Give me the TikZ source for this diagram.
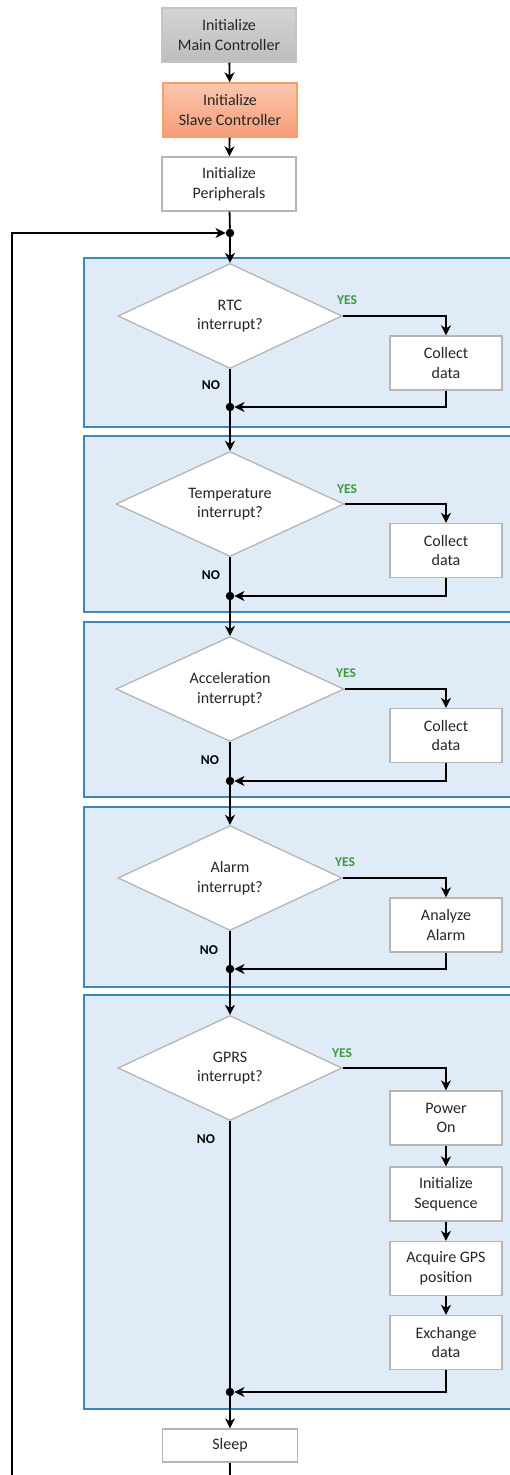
\documentclass[tikz,border=0pt]{standalone}
\usepackage{fontspec}
\setmainfont{Carlito}
\usetikzlibrary{shapes.geometric,arrows.meta}
\definecolor{panelfill}{HTML}{DFECF8}
\definecolor{panelline}{HTML}{3A87C2}
\definecolor{boxline}{HTML}{B5B5B5}
\definecolor{txt}{HTML}{262626}
\definecolor{yesgreen}{HTML}{3E9A3A}
\definecolor{grayTop}{HTML}{D4D4D4}
\definecolor{grayBot}{HTML}{BDBDBD}
\definecolor{grayLine}{HTML}{C4C4C4}
\definecolor{orTop}{HTML}{FCC7AE}
\definecolor{orBot}{HTML}{F69C78}
\definecolor{orLine}{HTML}{F7A064}
\tikzset{
  basebox/.style={rectangle, draw=boxline, line width=1.3pt, fill=white, inner sep=0pt,
    align=center, text=txt, font=\fontsize{16}{19.5}\selectfont},
  sidebox/.style={basebox, minimum width=112pt, minimum height=54pt},
  topbox/.style={basebox, minimum width=134pt, minimum height=54pt},
  decision/.style={diamond, draw=boxline, fill=white, line width=1.3pt, inner sep=0pt,
    aspect=2.1, align=center, text=txt, font=\fontsize{16}{19.5}\selectfont,
    minimum width=224pt, minimum height=105pt},
  panel/.style={draw=panelline, line width=1.6pt, fill=panelfill},
  flow/.style={line width=1.8pt, -{Stealth[length=10pt,width=10pt,inset=3pt]}},
  plain/.style={line width=1.8pt},
  dot/.style={circle, fill=black, inner sep=0pt, minimum size=8.5pt},
  yeslbl/.style={text=yesgreen, font=\bfseries\fontsize{13.5}{13.5}\selectfont},
  nolbl/.style={text=black, font=\bfseries\fontsize{13.5}{13.5}\selectfont}
}
\begin{document}
\begin{tikzpicture}[x=1pt,y=-1pt]
\useasboundingbox (0,0) rectangle (510,1475);
\clip (0,0) rectangle (510,1475);
\fill[white] (0,0) rectangle (510,1475);

% panels
\path[panel] (84,258) rectangle (520,427);
\path[panel] (84,436) rectangle (520,612);
\path[panel] (84,622) rectangle (520,797);
\path[panel] (84,807) rectangle (520,987);
\path[panel] (84,995) rectangle (520,1409);

% top boxes
\node[topbox, top color=grayTop, bottom color=grayBot, draw=grayLine] (main) at (229,35) {Initialize\\Main Controller};
\node[topbox, top color=orTop, bottom color=orBot, draw=orLine] (slave) at (230,110) {Initialize\\Slave Controller};
\node[topbox] (periph) at (229,184) {Initialize\\Peripherals};

% dots
\node[dot] (d0) at (230,233) {};
\node[dot] (d1) at (230,407) {};
\node[dot] (d2) at (230,596) {};
\node[dot] (d3) at (230,781) {};
\node[dot] (d4) at (230,969) {};
\node[dot] (d5) at (230,1392) {};

% decisions
\node[decision] (q1) at (230,316) {RTC\\interrupt?};
\node[decision, minimum width=228pt] (q2) at (230,504) {Temperature\\interrupt?};
\node[decision, minimum width=228pt] (q3) at (230,689) {Acceleration\\interrupt?};
\node[decision] (q4) at (230,878) {Alarm\\interrupt?};
\node[decision] (q5) at (230,1068) {GPRS\\interrupt?};

% side boxes
\node[sidebox] (c1) at (446,363) {Collect\\data};
\node[sidebox] (c2) at (446,550.5) {Collect\\data};
\node[sidebox] (c3) at (446,735.5) {Collect\\data};
\node[sidebox] (c4) at (446,925) {Analyze\\Alarm};
\node[sidebox] (g1) at (446,1118) {Power\\On};
\node[sidebox] (g2) at (446,1194) {Initialize\\Sequence};
\node[sidebox] (g3) at (446,1268.5) {Acquire GPS\\position};
\node[sidebox] (g4) at (446,1342.5) {Exchange\\data};

% sleep
\node[basebox, minimum width=135pt, minimum height=33pt] (sleep) at (230,1445.5) {Sleep};

% labels
\node[yeslbl] at (347,300) {YES};
\node[yeslbl] at (347,489) {YES};
\node[yeslbl] at (346,673) {YES};
\node[yeslbl] at (345,862) {YES};
\node[yeslbl] at (342,1053) {YES};
\node[nolbl] at (211,385) {NO};
\node[nolbl] at (211,575) {NO};
\node[nolbl] at (210,760) {NO};
\node[nolbl] at (209,950) {NO};
\node[nolbl] at (206,1139) {NO};

% connectors: init chain
\draw[flow] (main) -- (slave);
\draw[flow] (slave) -- (periph);
\draw[plain] (periph) -- (d0);

% block 1
\draw[flow] (d0) -- (q1.north);
\draw[flow] (q1.east) -| (c1.north);
\draw[plain] (q1.south) -- (d1);
\draw[flow] (c1.south) |- (d1);
% block 2
\draw[flow] (d1) -- (q2.north);
\draw[flow] (q2.east) -| (c2.north);
\draw[plain] (q2.south) -- (d2);
\draw[flow] (c2.south) |- (d2);
% block 3
\draw[flow] (d2) -- (q3.north);
\draw[flow] (q3.east) -| (c3.north);
\draw[plain] (q3.south) -- (d3);
\draw[flow] (c3.south) |- (d3);
% block 4
\draw[flow] (d3) -- (q4.north);
\draw[flow] (q4.east) -| (c4.north);
\draw[plain] (q4.south) -- (d4);
\draw[flow] (c4.south) |- (d4);
% block 5
\draw[flow] (d4) -- (q5.north);
\draw[flow] (q5.east) -| (g1.north);
\draw[flow] (g1) -- (g2);
\draw[flow] (g2) -- (g3);
\draw[flow] (g3) -- (g4);
\draw[plain] (q5.south) -- (d5);
\draw[flow] (g4.south) |- (d5);
% sleep and loop back
\draw[flow] (d5) -- (sleep);
\coordinate (loopR) at (230,1500);
\coordinate (loopL) at (12,1500);
\draw[flow] (sleep.south) -- (loopR) -- (loopL) |- (d0);
\end{tikzpicture}
\end{document}
